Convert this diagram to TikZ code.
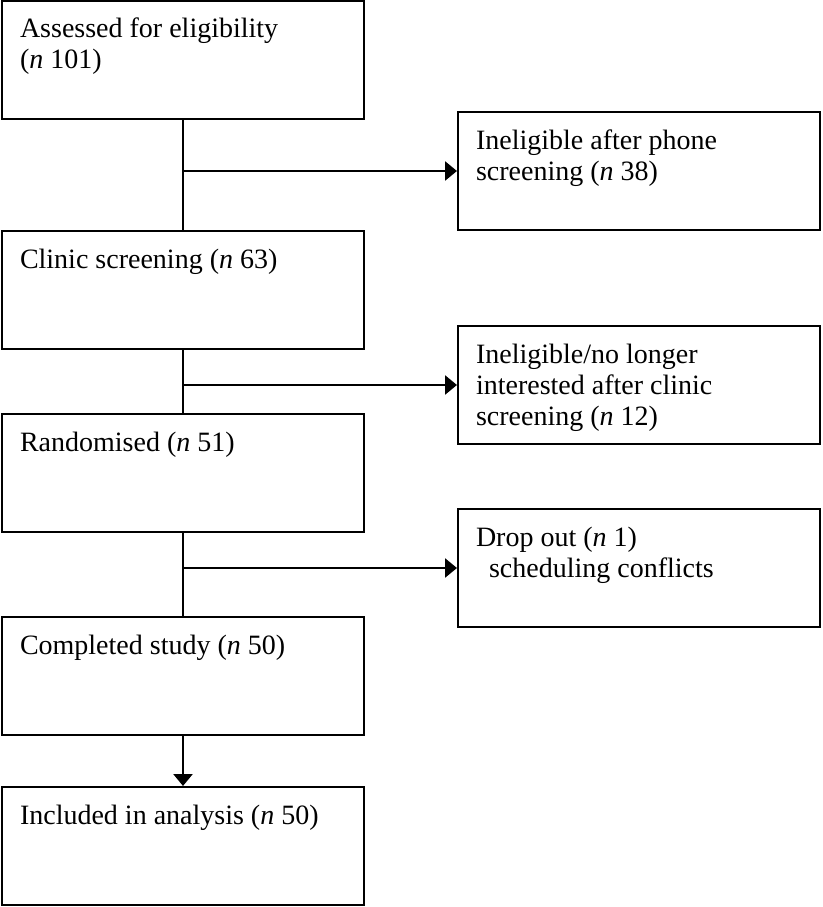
\documentclass[tikz,border=0pt]{standalone}
\usepackage{fontspec}
\setmainfont{Liberation Serif}
\usetikzlibrary{arrows.meta}
\newcommand{\boxtext}[1]{\parbox[c][118pt][t]{326pt}{\rule{0pt}{37pt}#1}}
\tikzset{
  flowbox/.style={draw, line width=2pt, inner sep=0pt, minimum width=362pt, minimum height=118pt,
    font=\fontsize{28}{31}\selectfont},
  link/.style={line width=2.6pt},
  arr/.style={line width=2.6pt, -{Triangle[length=12pt,width=19pt]}}
}
\begin{document}
\begin{tikzpicture}[x=1pt,y=-1pt]
\useasboundingbox (0,0) rectangle (822,907);
\node[flowbox] (b1) at (183,60)  {\boxtext{Assessed for eligibility\\(\textit{n} 101)}};
\node[flowbox] (b2) at (183,290) {\boxtext{Clinic screening (\textit{n} 63)}};
\node[flowbox] (b3) at (183,473) {\boxtext{Randomised (\textit{n} 51)}};
\node[flowbox] (b4) at (183,676) {\boxtext{Completed study (\textit{n} 50)}};
\node[flowbox] (b5) at (183,846) {\boxtext{Included in analysis (\textit{n} 50)}};
\node[flowbox] (rA) at (639,171) {\boxtext{Ineligible after phone\\screening (\textit{n} 38)}};
\node[flowbox] (rB) at (639,385) {\boxtext{Ineligible/no longer\\interested after clinic\\screening (\textit{n} 12)}};
\node[flowbox] (rC) at (639,568) {\boxtext{Drop out (\textit{n} 1)\\\hspace*{13pt}scheduling conflicts}};
\coordinate (j1) at (b1.south |- rA.west);
\coordinate (j2) at (b2.south |- rB.west);
\coordinate (j3) at (b3.south |- rC.west);
\draw[link] (b1.south) -- (b2.north);
\draw[link] (b2.south) -- (b3.north);
\draw[link] (b3.south) -- (b4.north);
\draw[arr] (j1) -- (rA.west);
\draw[arr] (j2) -- (rB.west);
\draw[arr] (j3) -- (rC.west);
\draw[arr] (b4.south) -- (b5.north);
\end{tikzpicture}
\end{document}
